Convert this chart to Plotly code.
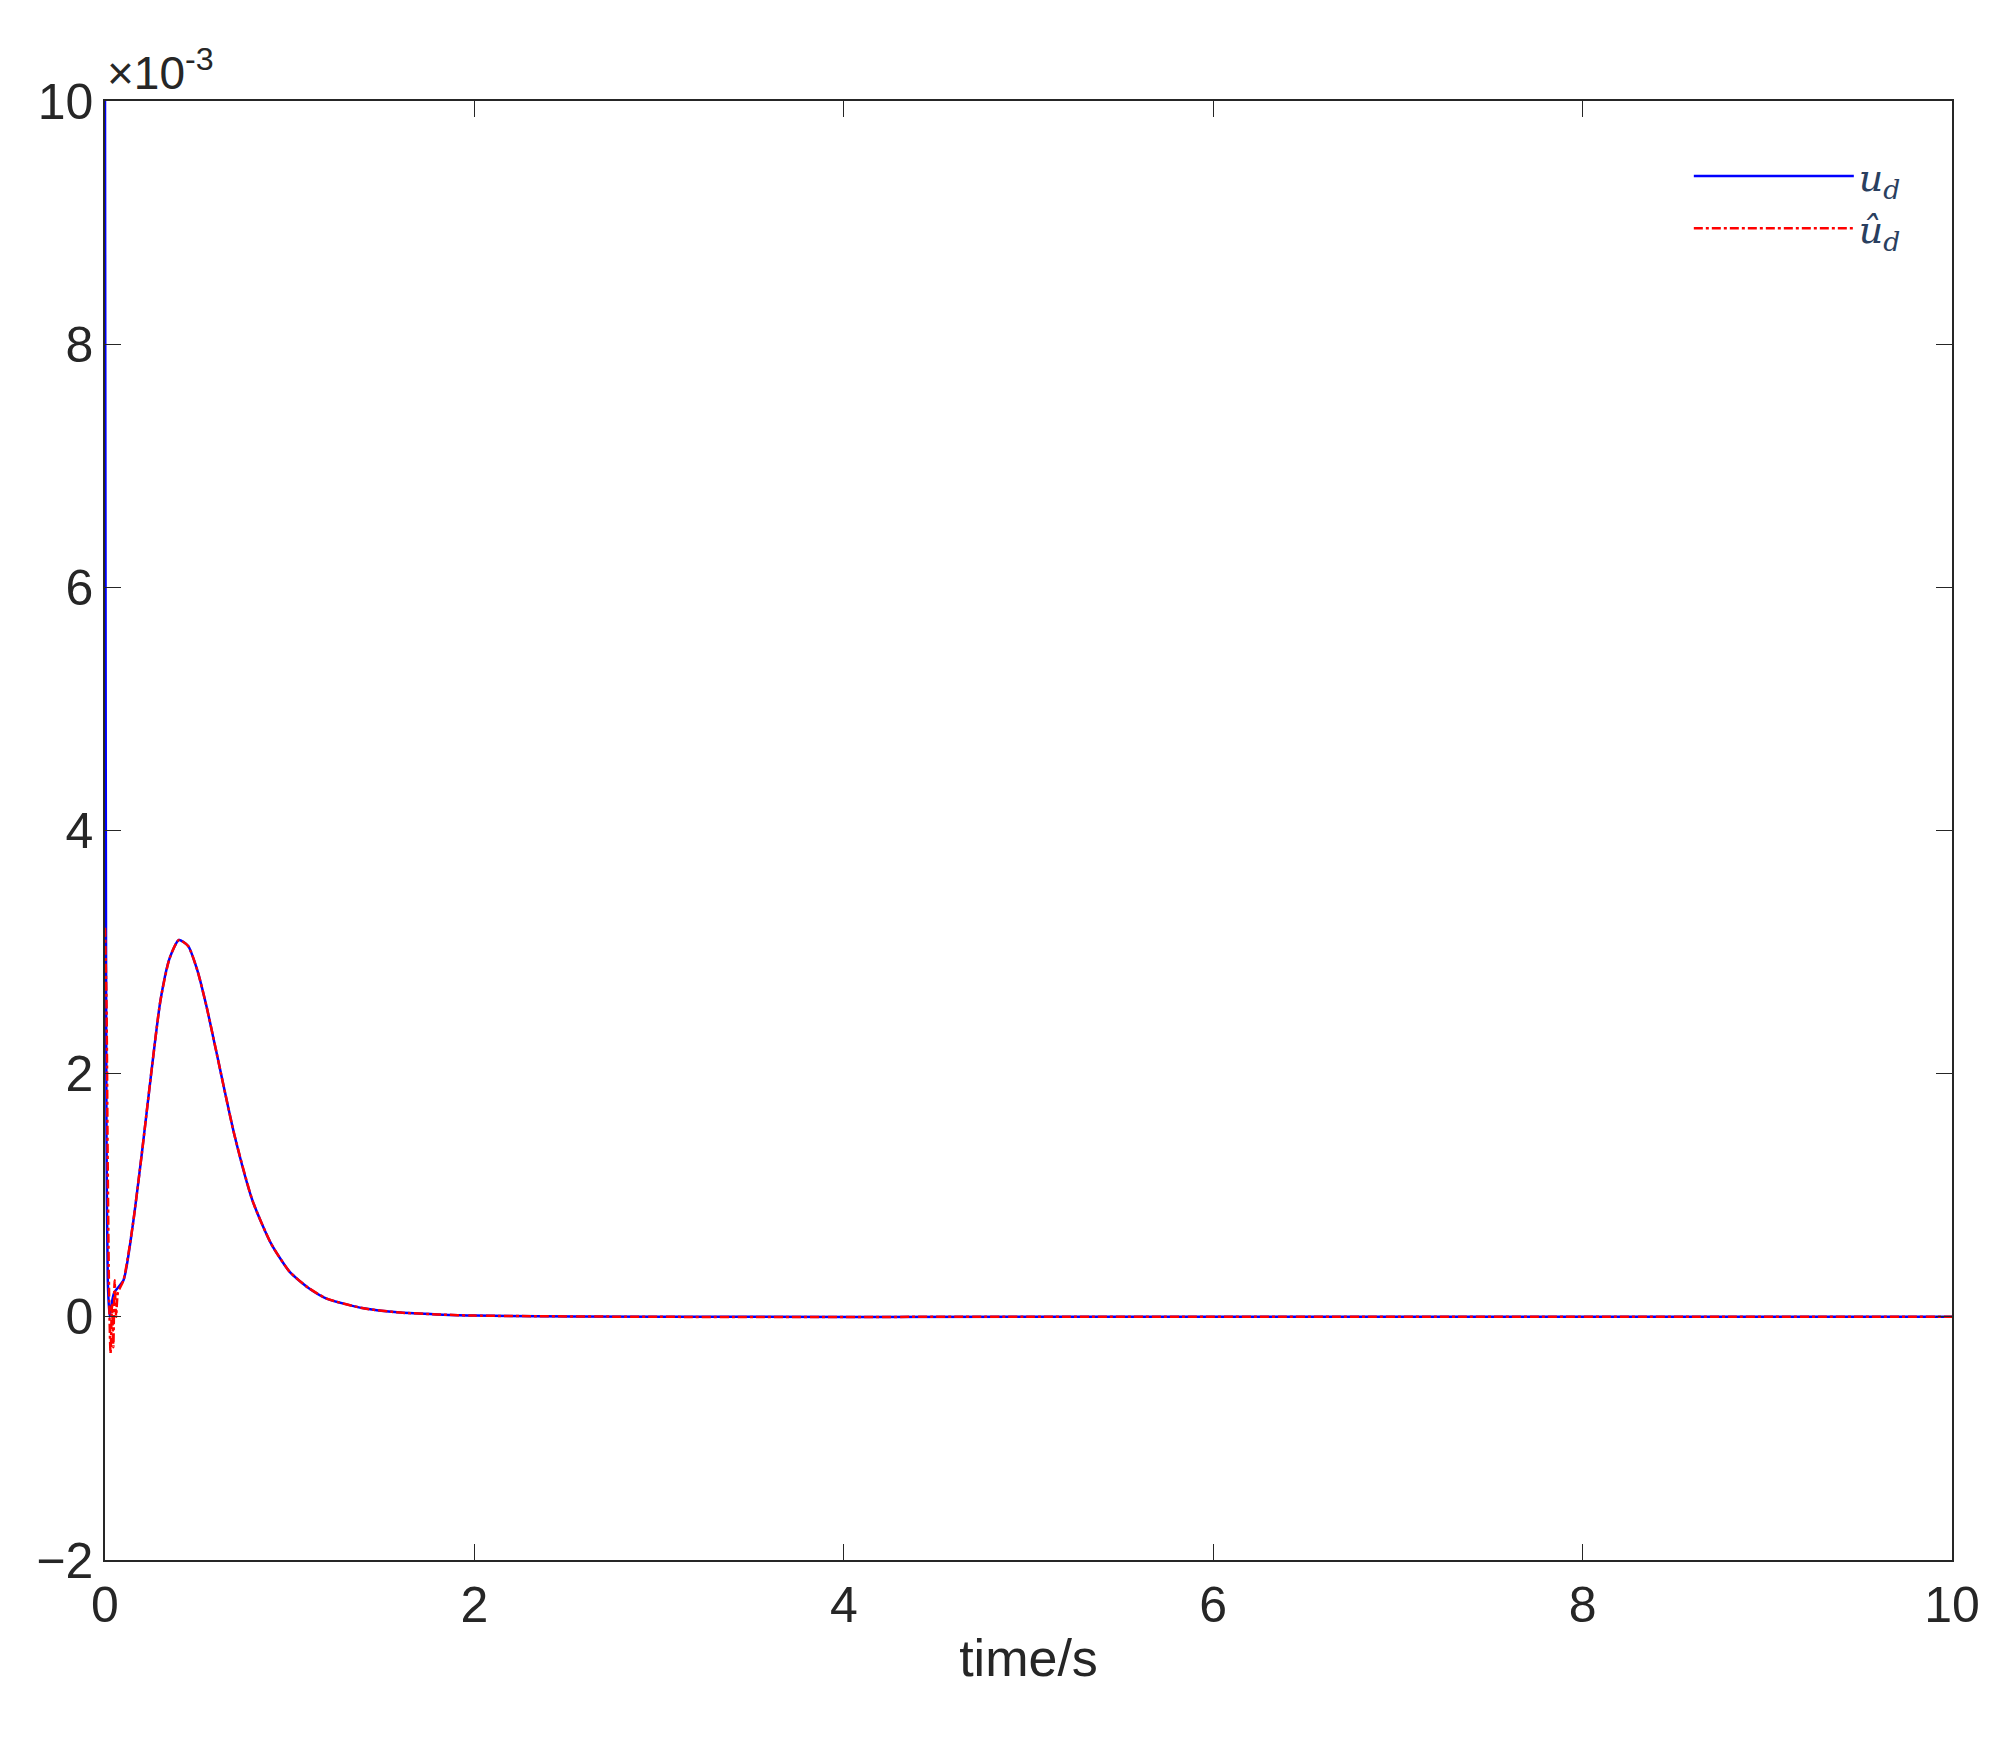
import plotly.graph_objects as go

t_ud = [0, 0.004, 0.008, 0.015, 0.025, 0.035, 0.05, 0.1, 0.15, 0.2, 0.25, 0.3, 0.35, 0.4, 0.45, 0.5, 0.55, 0.6, 0.7, 0.8, 0.9, 1.0, 1.1, 1.2, 1.4, 1.6, 1.8, 2, 3, 5, 10]
ud = [10, 4.5, 1.5, 0.3, 0.0, 0.1, 0.2, 0.3, 0.75, 1.35, 2.0, 2.6, 2.95, 3.1, 3.05, 2.85, 2.55, 2.2, 1.5, 0.95, 0.6, 0.37, 0.24, 0.15, 0.07, 0.035, 0.02, 0.01, 0.0, 0.0, 0.0]
t_hat = [0, 0.008, 0.015, 0.022, 0.03, 0.038, 0.045, 0.052, 0.06, 0.07, 0.1, 0.15, 0.2, 0.25, 0.3, 0.35, 0.4, 0.45, 0.5, 0.55, 0.6, 0.7, 0.8, 0.9, 1.0, 1.1, 1.2, 1.4, 1.6, 1.8, 2, 3, 5, 10]
ud_hat = [3.2, 2.6, 1.2, 0.2, -0.3, 0.1, -0.25, 0.3, 0.0, 0.2, 0.3, 0.75, 1.35, 2.0, 2.6, 2.95, 3.1, 3.05, 2.85, 2.55, 2.2, 1.5, 0.95, 0.6, 0.37, 0.24, 0.15, 0.07, 0.035, 0.02, 0.01, 0.0, 0.0, 0.0]

fig = go.Figure()
fig.add_trace(go.Scatter(x=t_ud, y=ud, mode="lines", name="<i>u<sub>d</sub></i>",
                         line=dict(color="#0000ff", width=2.5, shape="spline", smoothing=0.6)))
fig.add_trace(go.Scatter(x=t_hat, y=ud_hat, mode="lines", name="<i>û<sub>d</sub></i>",
                         line=dict(color="#ff0000", width=2.5, dash="dashdot", shape="spline", smoothing=0.6)))

ax = dict(showgrid=False, zeroline=False, showline=True, linecolor="#262626", linewidth=1.5,
          mirror="ticks", ticks="inside", ticklen=16, tickcolor="#262626",
          tickfont=dict(family="Liberation Sans, Arial", size=50, color="#262626"))
fig.update_xaxes(range=[0, 10], dtick=2, title=dict(text="time/s", font=dict(family="Liberation Sans, Arial", size=52, color="#262626"), standoff=8), **ax)
fig.update_yaxes(range=[-2, 10], dtick=2, **ax)
fig.add_annotation(x=0, y=1, xref="paper", yref="paper", xanchor="left", yanchor="bottom",
                   text="×10<sup>-3</sup>", showarrow=False,
                   font=dict(family="Liberation Sans, Arial", size=46, color="#262626"))
fig.update_layout(width=1990, height=1737, plot_bgcolor="white", paper_bgcolor="white",
                  margin=dict(l=97, r=46, t=93, b=185),
                  legend=dict(x=0.975, y=0.97, xanchor="right", yanchor="top", itemwidth=160,
                              font=dict(family="DejaVu Serif", size=38), bgcolor="rgba(0,0,0,0)"))
fig.write_html("out.html")
